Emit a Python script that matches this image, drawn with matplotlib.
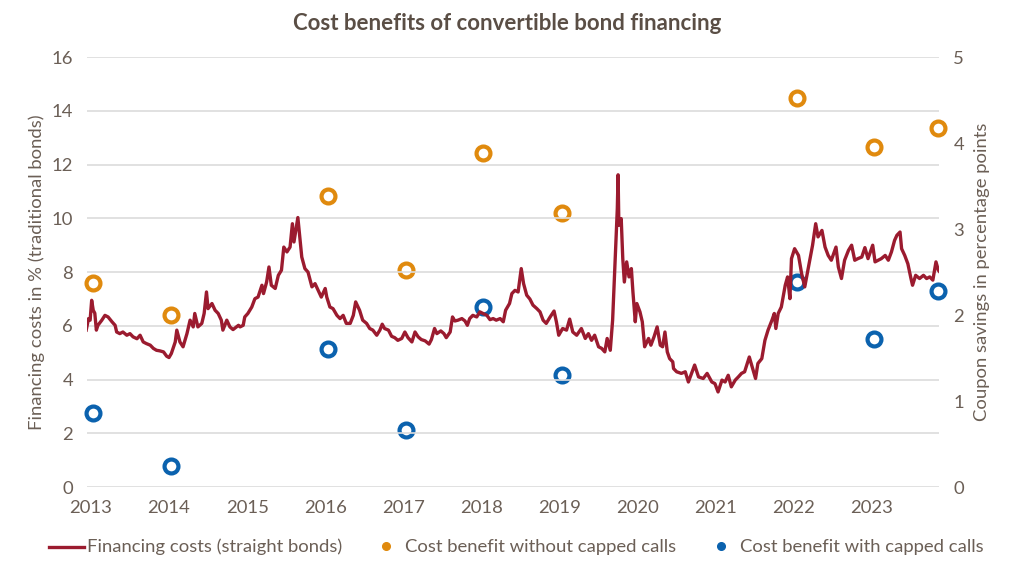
import matplotlib
matplotlib.use("Agg")
import matplotlib.pyplot as plt
from matplotlib.lines import Line2D

plt.rcParams['font.family'] = ['Lato', 'DejaVu Sans']

# Financing costs (straight bonds): decimal year, % level
cost_year = [
    2012.94, 2012.97, 2012.99, 2013.01, 2013.03, 2013.05, 2013.07, 2013.09, 2013.14, 2013.18,
    2013.22, 2013.27, 2013.31, 2013.33, 2013.37, 2013.41, 2013.46, 2013.50, 2013.54, 2013.59,
    2013.63, 2013.67, 2013.71, 2013.76, 2013.80, 2013.84, 2013.88, 2013.93, 2013.97, 2014.00,
    2014.03, 2014.08, 2014.10, 2014.14, 2014.18, 2014.23, 2014.27, 2014.31, 2014.33, 2014.37,
    2014.42, 2014.45, 2014.48, 2014.50, 2014.55, 2014.59, 2014.63, 2014.67, 2014.69, 2014.74,
    2014.78, 2014.82, 2014.89, 2014.91, 2014.95, 2014.97, 2015.01, 2015.06, 2015.10, 2015.14,
    2015.19, 2015.21, 2015.25, 2015.28, 2015.31, 2015.36, 2015.40, 2015.44, 2015.47, 2015.51,
    2015.55, 2015.58, 2015.60, 2015.65, 2015.67, 2015.70, 2015.74, 2015.78, 2015.83, 2015.87,
    2015.91, 2015.95, 2016.00, 2016.02, 2016.06, 2016.10, 2016.15, 2016.19, 2016.23, 2016.27,
    2016.32, 2016.36, 2016.39, 2016.44, 2016.48, 2016.53, 2016.57, 2016.61, 2016.66, 2016.70,
    2016.73, 2016.76, 2016.81, 2016.85, 2016.89, 2016.93, 2016.98, 2017.02, 2017.06, 2017.11,
    2017.15, 2017.19, 2017.23, 2017.28, 2017.33, 2017.36, 2017.40, 2017.43, 2017.48, 2017.52,
    2017.55, 2017.60, 2017.63, 2017.66, 2017.70, 2017.75, 2017.79, 2017.82, 2017.85, 2017.89,
    2017.94, 2017.98, 2018.02, 2018.07, 2018.11, 2018.15, 2018.19, 2018.24, 2018.28, 2018.31,
    2018.36, 2018.39, 2018.43, 2018.47, 2018.49, 2018.51, 2018.54, 2018.58, 2018.62, 2018.66,
    2018.71, 2018.75, 2018.79, 2018.83, 2018.88, 2018.93, 2018.96, 2018.99, 2019.04, 2019.09,
    2019.13, 2019.17, 2019.22, 2019.28, 2019.33, 2019.37, 2019.41, 2019.45, 2019.50, 2019.54,
    2019.58, 2019.61, 2019.65, 2019.68, 2019.71, 2019.74, 2019.75, 2019.76, 2019.79, 2019.81,
    2019.83, 2019.86, 2019.89, 2019.92, 2019.94, 2019.97, 2019.99, 2020.03, 2020.06, 2020.09,
    2020.14, 2020.17, 2020.21, 2020.25, 2020.29, 2020.32, 2020.35, 2020.38, 2020.41, 2020.45,
    2020.46, 2020.50, 2020.56, 2020.61, 2020.65, 2020.69, 2020.73, 2020.78, 2020.84, 2020.89,
    2020.95, 2020.99, 2021.03, 2021.08, 2021.12, 2021.16, 2021.20, 2021.25, 2021.29, 2021.33,
    2021.37, 2021.43, 2021.46, 2021.51, 2021.54, 2021.59, 2021.63, 2021.67, 2021.72, 2021.75,
    2021.77, 2021.80, 2021.84, 2021.89, 2021.92, 2021.95, 2021.97, 2022.01, 2022.06, 2022.10,
    2022.14, 2022.18, 2022.24, 2022.28, 2022.31, 2022.36, 2022.40, 2022.44, 2022.48, 2022.54,
    2022.57, 2022.61, 2022.65, 2022.70, 2022.74, 2022.78, 2022.82, 2022.87, 2022.91, 2022.95,
    2023.01, 2023.04, 2023.08, 2023.12, 2023.17, 2023.21, 2023.25, 2023.29, 2023.32, 2023.36,
    2023.38, 2023.42, 2023.46, 2023.50, 2023.52, 2023.56, 2023.61, 2023.66, 2023.70, 2023.74,
    2023.78, 2023.82, 2023.85, 2023.87,
]
cost_pct = [
    5.84, 6.27, 6.21, 6.95, 6.58, 6.47, 5.84, 6.02, 6.21, 6.39,
    6.33, 6.15, 6.02, 5.77, 5.71, 5.77, 5.65, 5.71, 5.59, 5.52,
    5.65, 5.40, 5.34, 5.28, 5.16, 5.09, 5.07, 5.03, 4.87, 4.82,
    4.97, 5.40, 5.84, 5.40, 5.22, 5.71, 6.21, 5.96, 6.46, 5.96,
    6.09, 6.46, 7.26, 6.64, 6.83, 6.58, 6.46, 6.21, 5.84, 6.21,
    5.96, 5.86, 6.02, 5.96, 6.02, 6.33, 6.46, 6.70, 7.01, 7.07,
    7.51, 7.20, 7.63, 8.19, 7.51, 7.39, 7.88, 8.07, 8.93, 8.75,
    8.93, 9.80, 9.12, 10.03, 9.43, 8.56, 8.13, 8.00, 7.45, 7.57,
    7.32, 7.07, 7.39, 7.07, 6.70, 6.64, 6.39, 6.27, 6.39, 6.09,
    6.09, 6.39, 6.89, 6.58, 6.21, 6.09, 5.90, 5.84, 5.65, 5.84,
    6.06, 5.90, 5.84, 5.61, 5.56, 5.46, 5.53, 5.77, 5.56, 5.40,
    5.77, 5.59, 5.49, 5.44, 5.32, 5.49, 5.90, 5.71, 5.81, 5.71,
    5.56, 5.77, 6.33, 6.18, 6.21, 6.27, 6.18, 6.02, 6.27, 6.39,
    6.33, 6.52, 6.46, 6.39, 6.23, 6.27, 6.21, 6.27, 6.15, 6.58,
    6.83, 7.20, 7.32, 7.26, 7.70, 8.13, 7.57, 7.14, 7.00, 6.77,
    6.64, 6.52, 6.21, 6.09, 6.33, 6.55, 6.15, 5.65, 5.90, 5.84,
    6.25, 5.77, 5.65, 5.90, 5.53, 5.71, 5.46, 5.65, 5.22, 5.16,
    5.03, 5.53, 5.09, 6.21, 8.25, 10.36, 11.62, 9.74, 9.99, 8.50,
    7.63, 8.38, 7.82, 8.13, 7.26, 6.15, 6.83, 6.52, 6.15, 5.22,
    5.53, 5.28, 5.59, 5.96, 5.28, 5.22, 5.77, 5.03, 4.78, 4.66,
    4.41, 4.29, 4.23, 4.29, 3.91, 4.23, 4.54, 4.10, 4.04, 4.23,
    3.91, 3.85, 3.54, 3.98, 3.91, 4.16, 3.73, 3.98, 4.10, 4.23,
    4.29, 4.84, 4.54, 4.04, 4.60, 4.78, 5.46, 5.84, 6.21, 6.46,
    5.90, 6.46, 6.70, 7.51, 7.82, 7.01, 8.50, 8.87, 8.62, 7.94,
    7.45, 8.07, 9.00, 9.80, 9.31, 9.55, 8.93, 8.62, 8.44, 8.93,
    8.19, 7.76, 8.44, 8.81, 9.00, 8.44, 8.50, 8.56, 8.91, 8.50,
    9.00, 8.38, 8.44, 8.50, 8.62, 8.44, 8.75, 9.18, 9.37, 9.49,
    8.87, 8.62, 8.31, 7.76, 7.51, 7.88, 7.76, 7.88, 7.76, 7.82,
    7.70, 8.38, 8.07, 8.00,
]

# Coupon savings (percentage points), right axis
benefit_year = [2013.03, 2014.02, 2016.03, 2017.03, 2018.02, 2019.03, 2022.04, 2023.03, 2023.85]
benefit_no_cap = [2.37, 2.00, 3.38, 2.53, 3.89, 3.19, 4.53, 3.95, 4.17]
benefit_cap = [0.86, 0.25, 1.61, 0.66, 2.09, 1.30, 2.38, 1.72, 2.28]

years = list(range(2013, 2024))

text_col = '#6b5f56'
line_col = '#9b1b2f'
orange = '#e08a0e'
blue = '#0b62ae'
fs = 13.3

fig = plt.figure(figsize=(10.15, 5.71), dpi=100)
ax = fig.add_axes([0.0857, 0.147, 0.8399, 0.753])
ax2 = ax.twinx()

ax.plot(cost_year, cost_pct, color=line_col, lw=2.4, zorder=3)
for vals, col in ((benefit_no_cap, orange), (benefit_cap, blue)):
    ax2.scatter(benefit_year, vals, s=100, facecolors='white', edgecolors=col,
                linewidths=3, zorder=4, clip_on=False)

ax.set_xlim(2012.95, 2023.865)
ax.set_ylim(0, 16)
ax2.set_ylim(0, 5)
ax.set_yticks(range(0, 17, 2))
ax2.set_yticks(range(0, 6))
ax.set_xticks(years)
ax.set_xticklabels([str(y) for y in years])

ax.grid(axis='y', color='#dcdcdc', lw=1.2)
ax.set_axisbelow(True)
for a in (ax, ax2):
    for s in a.spines.values():
        s.set_visible(False)
    a.tick_params(length=0, colors=text_col, labelsize=fs)
ax.tick_params(axis='y', pad=10)
ax2.tick_params(axis='y', pad=10)
ax.tick_params(axis='x', pad=9)
ax.set_zorder(ax2.get_zorder() + 1)
ax.patch.set_visible(False)

ax.set_ylabel('Financing costs in % (traditional bonds)', color=text_col, fontsize=fs,
              labelpad=5)
ax2.set_ylabel('Coupon savings in percentage points', color=text_col, fontsize=fs,
               labelpad=7)

fig.text(0.5, 0.958, 'Cost benefits of convertible bond financing', ha='center', va='center',
         fontsize=16, fontweight='bold', color='#5a4e45')

# legend, laid out by hand along the bottom
leg_y = 0.042
fig.add_artist(Line2D([0.048, 0.083], [leg_y, leg_y], color=line_col, lw=2.4,
                      transform=fig.transFigure))
fig.text(0.0855, leg_y, 'Financing costs (straight bonds)', ha='left', va='center',
         fontsize=fs, color=text_col)
for x0, col, label in ((0.380, orange, 'Cost benefit without capped calls'),
                       (0.710, blue, 'Cost benefit with capped calls')):
    fig.add_artist(Line2D([x0], [leg_y + 0.002], ls='none', marker='o', ms=5.5, color=col,
                          transform=fig.transFigure))
    fig.text(x0 + 0.0195, leg_y, label, ha='left', va='center', fontsize=fs,
             color=text_col)

fig.savefig('out.png', dpi=100)
